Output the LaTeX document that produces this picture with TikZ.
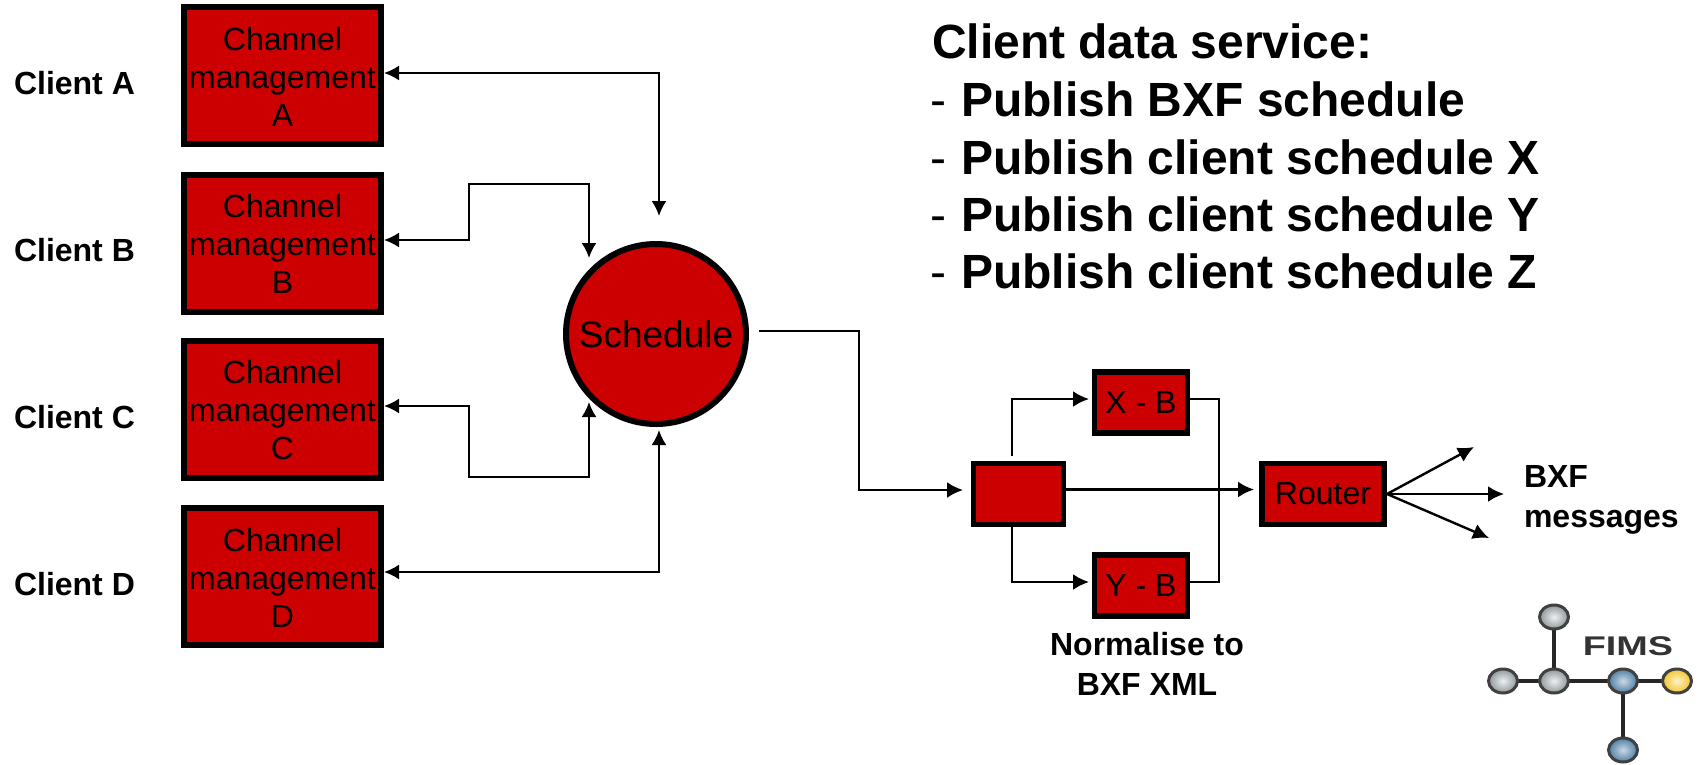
\documentclass[tikz,border=0pt]{standalone}
\usepackage{fontspec}
\setmainfont{Liberation Sans}
\usetikzlibrary{arrows.meta,calc,shapes.geometric}
\definecolor{boxred}{HTML}{CC0000}
\definecolor{logogray}{HTML}{8E979B}
\definecolor{logoblue}{HTML}{4F7FA6}
\definecolor{logoyellow}{HTML}{F2C62E}
\newcommand{\chanlabel}[1]{\rule{0pt}{25pt}Channel\\management\\#1}
\tikzset{
  chan/.style={draw=black,fill=boxred,line width=6pt,minimum width=197pt,minimum height=137pt,inner sep=0pt,outer sep=0pt,align=center,font=\fontsize{32}{38}\selectfont},
  small/.style={draw=black,fill=boxred,line width=5.7pt,minimum height=61pt,inner sep=0pt,outer sep=0pt,font=\fontsize{32}{38}\selectfont},
  lab/.style={inner sep=0pt,outer sep=0pt,align=center,font=\fontsize{32}{40}\selectfont\bfseries},
  link/.style={line width=2.2pt,{Latex[length=15pt,width=15pt]}-{Latex[length=15pt,width=15pt]}},
  onew/.style={line width=2.4pt,-{Latex[length=16pt,width=16pt]}},
  plain/.style={line width=2.4pt},
  headtxt/.style={inner sep=0pt,outer sep=0pt,anchor=base west,font=\fontsize{48}{48}\selectfont\bfseries},
  bullet/.style={inner sep=0pt,outer sep=0pt,anchor=base west,font=\fontsize{48}{48}\selectfont},
  bead/.style={ellipse,draw=black!75,line width=3pt,minimum width=29pt,minimum height=24pt,inner sep=0pt,outer sep=0pt},
}
\begin{document}
\begin{tikzpicture}[x=1pt,y=-1pt]
\useasboundingbox (0,0) rectangle (1703,764);
% client boxes
\node[chan] (A) at (282.5,75.5) {\chanlabel{A}};
\node[chan] (B) at (282.5,243) {\chanlabel{B}};
\node[chan] (C) at (282.5,409) {\chanlabel{C}};
\node[chan] (D) at (282.5,576.5) {\chanlabel{D}};
\node[lab,anchor=west] (la) at (14,83) {Client A};
\node[lab,anchor=west] (lb) at (14,250) {Client B};
\node[lab,anchor=west] (lc) at (14,417) {Client C};
\node[lab,anchor=west] (ld) at (14,584) {Client D};
% schedule
\node[circle,draw=black,fill=boxred,line width=6pt,minimum size=180pt,inner sep=0pt,outer sep=0pt,font=\fontsize{37}{40}\selectfont] (S) at (656,334) {Schedule};
% right chain
\node[small,minimum width=90pt] (split) at (1018.5,494) {};
\node[small,minimum width=93pt] (xb) at (1141,402.5) {X - B};
\node[small,minimum width=93pt] (yb) at (1141,585.5) {Y - B};
\node[small,minimum width=122pt] (router) at (1323,494) {Router};
% coordinates
\coordinate (ae) at (384,73);
\coordinate (as) at (659,216);
\coordinate (be) at (384,240);
\coordinate (b1) at (469,240);
\coordinate (b2) at (469,184);
\coordinate (b3) at (589,184);
\coordinate (bs) at (589,258);
\coordinate (ce) at (384,406);
\coordinate (c1) at (469,406);
\coordinate (c2) at (469,477);
\coordinate (c3) at (589,477);
\coordinate (cs) at (589,402);
\coordinate (de) at (384,572);
\coordinate (ds) at (659,430);
\draw[link] (ae) -| (as);
\draw[link] (be) -- (b1) -- (b2) -- (b3) -- (bs);
\draw[link] (ce) -- (c1) -- (c2) -- (c3) -- (cs);
\draw[link] (de) -| (ds);
% schedule to splitter
\coordinate (so) at (759,331);
\coordinate (si) at (963,490);
\draw[onew] (so) -- (859,331) |- (si);
% splitter to converters
\coordinate (st) at (1012,456);
\coordinate (xi) at (1089,399);
\coordinate (yi) at (1089,582);
\coordinate (xo) at (1190,399);
\coordinate (yo) at (1190,582);
\draw[onew] (st) |- (xi);
\draw[onew] (split.south -| st) |- (yi);
\draw[plain] (xo) -- (1219,399) -- (1219,582) -- (yo);
\draw[onew] (split.east |- 0,489.5) -- (1254,489.5);
% router fan
\coordinate (r) at (1387,494);
\coordinate (r1) at (1474,447);
\coordinate (r2) at (1504,494);
\coordinate (r3) at (1489,538);
\draw[onew] (r) -- (r1);
\draw[onew] (r) -- (r2);
\draw[onew] (r) -- (r3);
% labels
\node[lab,align=left,anchor=west] (bxf) at (1524,500) {BXF\\messages};
\node[lab] (norm) at (1147,664) {Normalise to\\BXF XML};
% heading
\node[headtxt] (h0) at (932,58) {Client data service:};
\node[bullet] (d1) at (930,116) {-};
\node[headtxt] (h1) at (961,116) {Publish BXF schedule};
\node[bullet] (d2) at (930,174) {-};
\node[headtxt] (h2) at (961,174) {Publish client schedule X};
\node[bullet] (d3) at (930,231) {-};
\node[headtxt] (h3) at (961,231) {Publish client schedule Y};
\node[bullet] (d4) at (930,288) {-};
\node[headtxt] (h4) at (961,288) {Publish client schedule Z};
% logo
\draw[line width=4.7pt,black!85] (1554,617) -- (1554,681) (1503,681) -- (1677,681) (1623,681) -- (1623,750);
\node[bead,inner color=white!85!logogray,outer color=logogray] (n1) at (1554,617) {};
\node[bead,inner color=white!85!logogray,outer color=logogray] (n2) at (1503,681) {};
\node[bead,inner color=white!85!logogray,outer color=logogray] (n3) at (1554,681) {};
\node[bead,inner color=white!70!logoblue,outer color=logoblue] (n4) at (1623,681) {};
\node[bead,inner color=white!75!logoyellow,outer color=logoyellow] (n5) at (1677,681) {};
\node[bead,inner color=white!70!logoblue,outer color=logoblue] (n6) at (1623,750) {};
\node[inner sep=0pt,text=black!80,xscale=1.4,font=\fontsize{27}{27}\selectfont\bfseries] (fims) at (1628,646) {FIMS};
\end{tikzpicture}
\end{document}
